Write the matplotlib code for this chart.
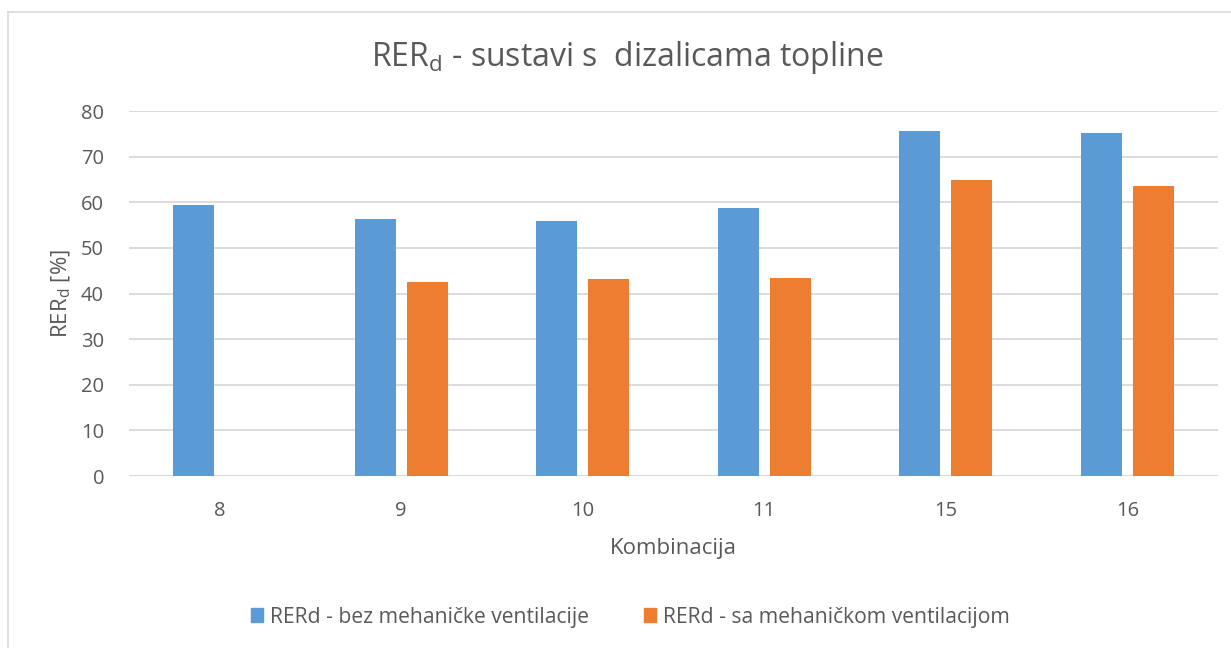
import matplotlib
matplotlib.use("Agg")
import matplotlib.pyplot as plt
from matplotlib.lines import Line2D
import numpy as np

categories = ["8", "9", "10", "11", "15", "16"]
bez_mehanicke = [59.4, 56.4, 55.9, 58.7, 75.7, 75.2]
sa_mehanickom = [np.nan, 42.6, 43.2, 43.4, 64.9, 63.6]
series_names = ["RERd - bez mehaničke ventilacije", "RERd - sa mehaničkom ventilacijom"]
yticks = [0, 10, 20, 30, 40, 50, 60, 70, 80]

BLUE = "#5B9BD5"
ORANGE = "#ED7D31"
TXT = "#595959"
GRID = "#D9D9D9"

plt.rcParams["font.family"] = ["Open Sans", "DejaVu Sans"]

W, H = 1231, 648
fig = plt.figure(figsize=(W / 100, H / 100), dpi=100)
fig.patch.set_facecolor("white")

ax = fig.add_axes([129 / W, 1 - 476 / H, (1218 - 129) / W, (476 - 111) / H])
x = np.arange(len(categories))
bw = 0.225
off = 0.143
ax.bar(x - off, bez_mehanicke, bw, color=BLUE, label=series_names[0], zorder=3)
ax.bar(x + off, sa_mehanickom, bw, color=ORANGE, label=series_names[1], zorder=3)

ax.set_xlim(-0.5, len(categories) - 0.5)
ax.set_ylim(0, 80)
ax.set_yticks(yticks)
ax.set_xticks(x)
ax.set_xticklabels(categories)
for s in ax.spines.values():
    s.set_visible(False)
ax.yaxis.grid(True, color=GRID, linewidth=1.3, zorder=0)
ax.set_axisbelow(True)
ax.tick_params(axis="both", length=0, colors=TXT, labelsize=14.5)
ax.tick_params(axis="x", pad=18)
ax.tick_params(axis="y", pad=18)
ax.axhline(0, color=GRID, linewidth=1.5, zorder=2)

ax.set_xlabel("Kombinacija", color=TXT, fontsize=16, labelpad=12)
ax.set_ylabel("RER$_\\mathregular{d}$ [%]", color=TXT, fontsize=16, labelpad=6)

fig.text(627 / W, 1 - 58 / H, "RER$_\\mathregular{d}$ - sustavi s  dizalicama topline",
         ha="center", va="center", color=TXT, fontsize=23)

handles = [plt.Rectangle((0, 0), 1, 1, color=BLUE), plt.Rectangle((0, 0), 1, 1, color=ORANGE)]
fig.legend(handles, series_names, loc="center", bbox_to_anchor=(630 / W, 1 - 617 / H),
           ncol=2, frameon=False, fontsize=15.2, labelcolor=TXT,
           handlelength=0.6, handleheight=0.6, handletextpad=0.3, columnspacing=2.6)

# chart border (top and left visible)
fig.add_artist(Line2D([8 / W, 1.0], [1 - 12 / H, 1 - 12 / H], transform=fig.transFigure, color=GRID, linewidth=1.2))
fig.add_artist(Line2D([8 / W, 8 / W], [0.0, 1 - 12 / H], transform=fig.transFigure, color=GRID, linewidth=1.2))

fig.savefig("out.png", dpi=100, facecolor="white")
